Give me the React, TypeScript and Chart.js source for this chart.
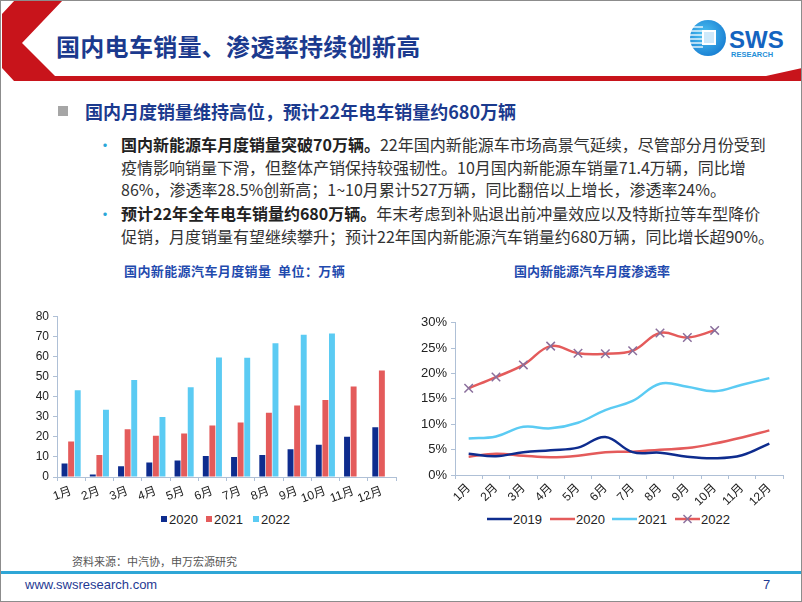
import React, { useEffect, useRef } from "react";
import { Chart, registerables } from "chart.js";
Chart.register(...registerables);

const months = ["1月", "2月", "3月", "4月", "5月", "6月", "7月", "8月", "9月", "10月", "11月", "12月"];
const salesLabels = ["2020", "2021", "2022"];
const sales2020 = [6.7, 1.2, 5.3, 7.2, 8.2, 10.5, 9.9, 11.0, 13.8, 16.1, 20.0, 24.8];
const sales2021 = [17.7, 11.0, 23.8, 20.5, 21.7, 25.6, 27.1, 32.0, 35.6, 38.3, 45.0, 53.0];
const sales2022 = [43.2, 33.5, 48.3, 29.9, 44.7, 59.4, 59.3, 66.5, 70.8, 71.4, null, null];
const salesTicks = [0, 10, 20, 30, 40, 50, 60, 70, 80];

const penLabels = ["2019", "2020", "2021", "2022"];
const pen2019 = [4.2, 3.7, 4.5, 4.9, 5.4, 7.5, 4.5, 4.4, 3.6, 3.3, 3.9, 6.2];
const pen2020 = [3.6, 4.2, 3.8, 3.5, 3.8, 4.5, 4.6, 5.0, 5.3, 6.2, 7.4, 8.8];
const pen2021 = [7.2, 7.6, 9.5, 9.2, 10.3, 12.8, 14.6, 18.0, 17.4, 16.5, 17.8, 19.1];
const pen2022 = [17.1, 19.3, 21.7, 25.4, 24.0, 23.9, 24.5, 28.0, 27.1, 28.5, null, null];

const NAVY = "#0E2C8E";
const RED = "#E45B5B";
const SKY = "#5BCBF3";
const AXIS = "#AFC0D6";
const TICK_FONT = "'Liberation Sans', Arial, 'Noto Sans CJK SC', sans-serif";

function BarChart() {
  const ref = useRef<HTMLCanvasElement>(null);
  useEffect(() => {
    const chart = new Chart(ref.current!, {
      type: "bar",
      data: {
        labels: months,
        datasets: [
          { label: salesLabels[0], data: sales2020, backgroundColor: NAVY },
          { label: salesLabels[1], data: sales2021, backgroundColor: RED },
          { label: salesLabels[2], data: sales2022 as any, backgroundColor: SKY },
        ],
      },
      options: {
        responsive: false,
        animation: false,
        layout: { padding: { left: 0, right: 5, top: 10, bottom: 0 } },
        datasets: { bar: { categoryPercentage: 0.7, barPercentage: 0.9 } },
        plugins: { legend: { display: false }, tooltip: { enabled: false } },
        scales: {
          x: {
            grid: { drawOnChartArea: false, drawTicks: true, tickLength: 4, color: AXIS, offset: true },
            border: { display: true, color: AXIS },
            ticks: { autoSkip: false, minRotation: 20, maxRotation: 20, color: "#222", font: { family: TICK_FONT, size: 12 }, padding: 3 },
            afterFit: (s: any) => { s.height = 30; },
          },
          y: {
            min: 0,
            max: 80,
            afterBuildTicks: (s: any) => { s.ticks = salesTicks.map((v) => ({ value: v })); },
            grid: { drawOnChartArea: false, drawTicks: true, tickLength: 4, color: AXIS },
            border: { display: true, color: AXIS },
            ticks: { color: "#222", font: { family: TICK_FONT, size: 12 }, padding: 4 },
            afterFit: (s: any) => { s.width = 36; },
          },
        },
      },
    });
    return () => chart.destroy();
  }, []);
  return <canvas ref={ref} width={380} height={202} style={{ position: "absolute", left: 20, top: 304, width: 380, height: 202 }} />;
}

function LineChart() {
  const ref = useRef<HTMLCanvasElement>(null);
  useEffect(() => {
    const common = { fill: false, tension: 0.4, borderWidth: 2.5, pointRadius: 0 };
    const chart = new Chart(ref.current!, {
      type: "line",
      data: {
        labels: months,
        datasets: [
          { label: penLabels[0], data: pen2019, borderColor: NAVY, ...common },
          { label: penLabels[1], data: pen2020, borderColor: RED, ...common },
          { label: penLabels[2], data: pen2021, borderColor: SKY, ...common },
          {
            label: penLabels[3], data: pen2022 as any, borderColor: RED, ...common,
            pointRadius: 6, pointStyle: "crossRot", pointBorderColor: "#8A6F9C", pointBorderWidth: 1.5, pointBackgroundColor: "#8A6F9C",
          },
        ],
      },
      options: {
        responsive: false,
        animation: false,
        layout: { padding: { left: 0, right: 8, top: 10, bottom: 0 } },
        plugins: { legend: { display: false }, tooltip: { enabled: false } },
        scales: {
          x: {
            offset: true,
            grid: { drawOnChartArea: false, drawTicks: true, tickLength: 4, color: AXIS, offset: true },
            border: { display: true, color: AXIS },
            ticks: { autoSkip: false, minRotation: 45, maxRotation: 45, color: "#222", font: { family: TICK_FONT, size: 12 }, padding: 2 },
            afterFit: (s: any) => { s.height = 34; },
          },
          y: {
            min: 0,
            max: 30,
            grid: { drawOnChartArea: false, drawTicks: true, tickLength: 4, color: AXIS },
            border: { display: true, color: AXIS },
            ticks: { stepSize: 5, color: "#222", font: { family: TICK_FONT, size: 13 }, padding: 4, callback: (v: any) => v + "%" },
            afterFit: (s: any) => { s.width = 44; },
          },
        },
      },
    });
    return () => chart.destroy();
  }, []);
  return <canvas ref={ref} width={380} height={198} style={{ position: "absolute", left: 410, top: 310, width: 380, height: 198 }} />;
}

const abs = (left: number, top: number, extra: any = {}) => ({ position: "absolute" as const, left, top, ...extra });

function BarLegend() {
  const items = [
    { label: salesLabels[0], color: NAVY, x: 160 },
    { label: salesLabels[1], color: RED, x: 205 },
    { label: salesLabels[2], color: SKY, x: 252 },
  ];
  return (
    <>
      {items.map((it) => (
        <div key={it.label} style={abs(it.x, 510, { display: "flex", alignItems: "center", height: 16, fontFamily: TICK_FONT, fontSize: 13, color: "#222" })}>
          <div style={{ width: 6, height: 6, background: it.color, marginRight: 2 }} />
          <span>{it.label}</span>
        </div>
      ))}
    </>
  );
}

function LineLegend() {
  const items = [
    { label: penLabels[0], color: NAVY, x: 486, mark: false },
    { label: penLabels[1], color: RED, x: 549, mark: false },
    { label: penLabels[2], color: SKY, x: 611, mark: false },
    { label: penLabels[3], color: RED, x: 674, mark: true },
  ];
  return (
    <>
      {items.map((it) => (
        <div key={it.label} style={abs(it.x, 510, { display: "flex", alignItems: "center", height: 16, fontFamily: TICK_FONT, fontSize: 13, color: "#222" })}>
          <svg width={25} height={14} style={{ marginRight: 1 }}>
            <line x1={0} y1={7} x2={25} y2={7} stroke={it.color} strokeWidth={2.5} />
            {it.mark && (
              <g stroke="#8A6F9C" strokeWidth={1.5}>
                <line x1={8.5} y1={3} x2={16.5} y2={11} />
                <line x1={16.5} y1={3} x2={8.5} y2={11} />
              </g>
            )}
          </svg>
          <span>{it.label}</span>
        </div>
      ))}
    </>
  );
}

const bodyStyle = { fontSize: 16, color: "#333", whiteSpace: "nowrap" as const, lineHeight: "22px" };

export default function App() {
  const lines: { top: number; bold?: string; text: string; bullet?: boolean }[] = [
    { top: 132, bullet: true, bold: "国内新能源车月度销量突破70万辆。", text: "22年国内新能源车市场高景气延续，尽管部分月份受到" },
    { top: 155, text: "疫情影响销量下滑，但整体产销保持较强韧性。10月国内新能源车销量71.4万辆，同比增" },
    { top: 177, text: "86%，渗透率28.5%创新高；1~10月累计527万辆，同比翻倍以上增长，渗透率24%。" },
    { top: 201, bullet: true, bold: "预计22年全年电车销量约680万辆。", text: "年末考虑到补贴退出前冲量效应以及特斯拉等车型降价" },
    { top: 224, text: "促销，月度销量有望继续攀升；预计22年国内新能源汽车销量约680万辆，同比增长超90%。" },
  ];
  return (
    <div style={{ position: "fixed", left: 0, top: 0, width: 802, height: 602, background: "#fff", overflow: "hidden", boxSizing: "border-box", border: "1px solid #8c8c8c", fontFamily: "'Noto Sans CJK SC', sans-serif" }}>
      <svg width={802} height={90} style={abs(-1, -1)}>
        <polygon points="15,0 63,0 22,43 55,76 766,76 802,68 802,81 14,81 2,68 2,14" fill="#C8141B" />
      </svg>
      <svg width={112} height={44} style={abs(687, 17)}>
        <defs>
          <radialGradient id="lg" cx="40%" cy="40%" r="70%">
            <stop offset="0%" stopColor="#4FC3F2" />
            <stop offset="100%" stopColor="#1479D0" />
          </radialGradient>
        </defs>
        <circle cx={20} cy={20} r={18} fill="url(#lg)" />
        {[9, 13, 17, 21, 25, 29].map((y) => (
          <line key={y} x1={2} y1={y} x2={15} y2={y} stroke="#fff" strokeWidth={1.3} />
        ))}
        <rect x={14} y={12} width={14} height={15} fill="#fff" />
        <rect x={16} y={14} width={10} height={11} fill="#cfe9fa" />
        <text x={41} y={30} fontFamily="'Liberation Sans', Arial" fontWeight="bold" fontSize={24} fill="#1464C0">SWS</text>
        <text x={43} y={39} fontFamily="'Liberation Sans', Arial" fontWeight="bold" fontSize={7.5} fill="#1E8FD8">RESEARCH</text>
      </svg>
      <div style={abs(55, 29, { fontSize: 24, fontWeight: 700, color: "#1B3A8E", lineHeight: "32px", whiteSpace: "nowrap", letterSpacing: "0.3px" })}>国内电车销量、渗透率持续创新高</div>

      <div style={abs(57, 105, { width: 10, height: 10, background: "#A6A6A6" })} />
      <div style={abs(84, 98, { fontSize: 18, fontWeight: 700, color: "#1B3A8E", lineHeight: "24px", whiteSpace: "nowrap" })}>国内月度销量维持高位，预计22年电车销量约680万辆</div>

      {lines.map((l, i) => (
        <React.Fragment key={i}>
          {l.bullet && <div style={abs(96, l.top, { ...bodyStyle, color: "#2AA6D8", fontSize: 16 })}>•</div>}
          <div style={abs(120, l.top, bodyStyle)}>
            {l.bold && <span style={{ fontWeight: 700, color: "#222" }}>{l.bold}</span>}
            {l.text}
          </div>
        </React.Fragment>
      ))}

      <div style={abs(123, 261, { fontSize: 13, fontWeight: 700, color: "#1F4AAE", lineHeight: "18px", whiteSpace: "pre", letterSpacing: "0.4px" })}>国内新能源汽车月度销量  单位：万辆</div>
      <div style={abs(513, 261, { fontSize: 13, fontWeight: 700, color: "#1F4AAE", lineHeight: "18px", whiteSpace: "nowrap" })}>国内新能源汽车月度渗透率</div>

      <BarChart />
      <LineChart />
      <BarLegend />
      <LineLegend />

      <div style={abs(71, 552, { fontSize: 11, color: "#555", lineHeight: "16px", whiteSpace: "nowrap" })}>资料来源：中汽协，申万宏源研究</div>
      <div style={abs(-1, 570, { width: 802, height: 3, background: "#2FA6D6" })} />
      <div style={abs(24, 576, { fontFamily: TICK_FONT, fontSize: 13, color: "#1F3A93", lineHeight: "16px" })}>www.swsresearch.com</div>
      <div style={abs(762, 576, { fontFamily: TICK_FONT, fontSize: 13, color: "#1F3A93", lineHeight: "16px" })}>7</div>
    </div>
  );
}
